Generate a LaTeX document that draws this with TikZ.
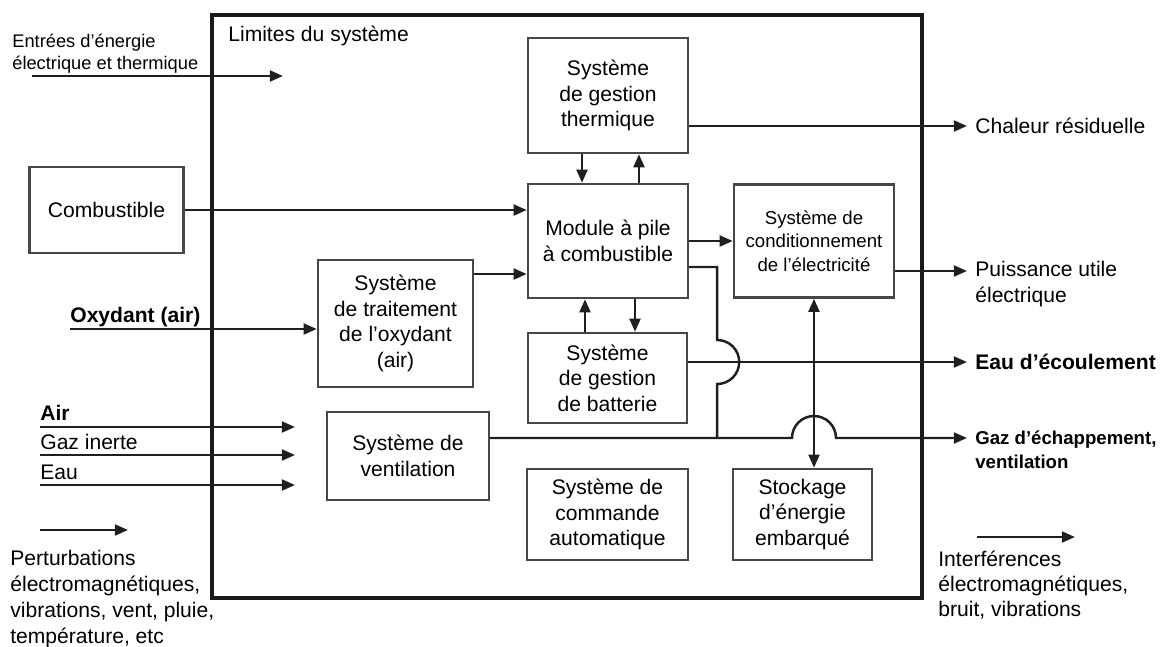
\documentclass[tikz,border=0pt]{standalone}
\usepackage{fontspec}
\setmainfont{Liberation Sans}
\usetikzlibrary{arrows.meta,calc}

\begin{document}
\begin{tikzpicture}[x=0.02cm, y=-0.02cm,
    box/.style={draw=black!72, line width=1.4pt, align=center, font=\fontsize{12}{14.5}\selectfont},
    flow/.style={draw=black!88, line width=1.4pt, -{Triangle[length=7.5pt,width=6.2pt]}},
    dflow/.style={draw=black!88, line width=1.4pt, {Triangle[length=7.5pt,width=6.2pt]}-{Triangle[length=7.5pt,width=6.2pt]}},
    wire/.style={draw=black!88, line width=1.4pt},
    lbl/.style={inner sep=0pt, anchor=west, align=left, font=\fontsize{12}{14.5}\selectfont}]
                \useasboundingbox (0,0) rectangle (1163,646);

                % limites du systeme
                \draw[line width=2pt, draw=black!90] (212,15) rectangle (922,598);
                \node[lbl] (lim) at (228,36) {Limites du système};

                \node[box, minimum width=3.08cm, minimum height=1.72cm] (comb) at (106.5,210) {Combustible};
                \node[box, minimum width=3.2cm, minimum height=2.3cm] (therm) at (608,95.5) {Système\\de gestion\\thermique};
                \node[box, minimum width=3.2cm, minimum height=2.28cm] (mod) at (608,241) {Module à pile\\à combustible};
                \node[box, minimum width=3.2cm, minimum height=2.26cm, font=\fontsize{10.6}{13.3}\selectfont] (cond) at (814,241) {Système de\\conditionnement\\de l’électricité};
                \node[box, minimum width=3.1cm, minimum height=2.54cm] (oxy) at (395.5,323.5) {Système\\de traitement\\de l’oxydant\\(air)};
                \node[box, minimum width=3.18cm, minimum height=1.8cm] (batt) at (607.5,378) {Système\\de gestion\\de batterie};
                \node[box, minimum width=3.24cm, minimum height=1.76cm] (vent) at (408,456) {Système de\\ventilation};
                \node[box, minimum width=3.22cm, minimum height=1.82cm] (cmd) at (607.5,514.5) {Système de\\commande\\automatique};
                \node[box, minimum width=2.78cm, minimum height=1.82cm] (stock) at (802.5,514.5) {Stockage\\d’énergie\\embarqué};

                % sorties
                \coordinate (chalin) at (967,126);
                \coordinate (puisin) at (967,271);
                \coordinate (eauin) at (967,362);
                \coordinate (gazin) at (967,438);
                \node[lbl] (chal) at (975,126) {Chaleur résiduelle};
                \node[lbl] (puis) at (975,284) {Puissance utile\\électrique};
                \node[lbl, font=\bfseries\fontsize{12}{14.5}\selectfont] (eau) at (975,362) {Eau d’écoulement};
                \node[lbl, font=\bfseries\fontsize{10.6}{13.6}\selectfont] (gaz) at (975,450) {Gaz d’échappement,\\ventilation};

                \draw[flow] (therm.east |- chalin) -- (chalin);
                \draw[flow] (cond.east |- puisin) -- (puisin);
                \draw[flow] (batt.east |- eauin) -- (eauin);
                \draw[flow] (vent.east |- gazin) -- ($(cond.south |- gazin)+(-22,0)$)
                    arc[start angle=180, end angle=0, radius=0.44cm] -- (gazin);
                \draw[wire] ([yshift=-0.52cm]mod.east) -- ++(28,0) coordinate (k1)
                    -- ($(k1 |- eauin)+(0,-22)$) arc[start angle=90, end angle=-90, radius=0.44cm]
                    -- (k1 |- gazin);

                % liaisons internes
                \draw[flow] (comb.east) -- (comb.east -| mod.west);
                \draw[flow] ([yshift=0.99cm]oxy.east) -- ([yshift=0.99cm]oxy.east -| mod.west);
                \draw[flow] (mod.east) -- (cond.west);
                \draw[flow] ([xshift=-0.52cm]therm.south) -- ([xshift=-0.52cm]mod.north);
                \draw[flow] ([xshift=0.62cm]mod.north) -- ([xshift=0.62cm]therm.south);
                \draw[flow] ([xshift=0.54cm]mod.south) -- ([xshift=0.54cm]mod.south |- batt.north);
                \draw[flow] ([xshift=-0.46cm]mod.south |- batt.north) -- ([xshift=-0.46cm]mod.south);
                \draw[dflow] (cond.south) -- (cond.south |- stock.north);

                % entrees
                \coordinate (en0) at (32,76);
                \coordinate (en1) at (283,76);
                \draw[flow] (en0) -- (en1);
                \node[lbl, font=\fontsize{10.4}{12.5}\selectfont] (entr) at (12,54) {Entrées d’énergie\\électrique et thermique};

                \coordinate (ox0) at (70,329);
                \draw[flow] (ox0) -- (ox0 -| oxy.west);
                \node[lbl, font=\bfseries\fontsize{12}{14.5}\selectfont] (oxl) at (70,317) {Oxydant (air)};

                \coordinate (air0) at (40,427);
                \coordinate (air1) at (295,427);
                \coordinate (gi0) at (40,455);
                \coordinate (gi1) at (295,455);
                \coordinate (ea0) at (40,485);
                \coordinate (ea1) at (295,485);
                \draw[flow] (air0) -- (air1);
                \draw[flow] (gi0) -- (gi1);
                \draw[flow] (ea0) -- (ea1);
                \node[lbl, font=\bfseries\fontsize{12}{14.5}\selectfont] (airl) at (40,413) {Air};
                \node[lbl] (gil) at (40,442) {Gaz inerte};
                \node[lbl] (eal) at (40,472) {Eau};

                % perturbations
                \coordinate (pe0) at (40,530);
                \coordinate (pe1) at (128,530);
                \draw[flow] (pe0) -- (pe1);
                \node[lbl, font=\fontsize{12}{14.7}\selectfont] (pert) at (10,599) {Perturbations\\électromagnétiques,\\vibrations, vent, pluie,\\température, etc};

                \coordinate (in0) at (977,537);
                \coordinate (in1) at (1075,537);
                \draw[flow] (in0) -- (in1);
                \node[lbl, font=\fontsize{12}{14.2}\selectfont] (interf) at (938,585) {Interférences\\électromagnétiques,\\bruit, vibrations};
            \end{tikzpicture}
\end{document}
